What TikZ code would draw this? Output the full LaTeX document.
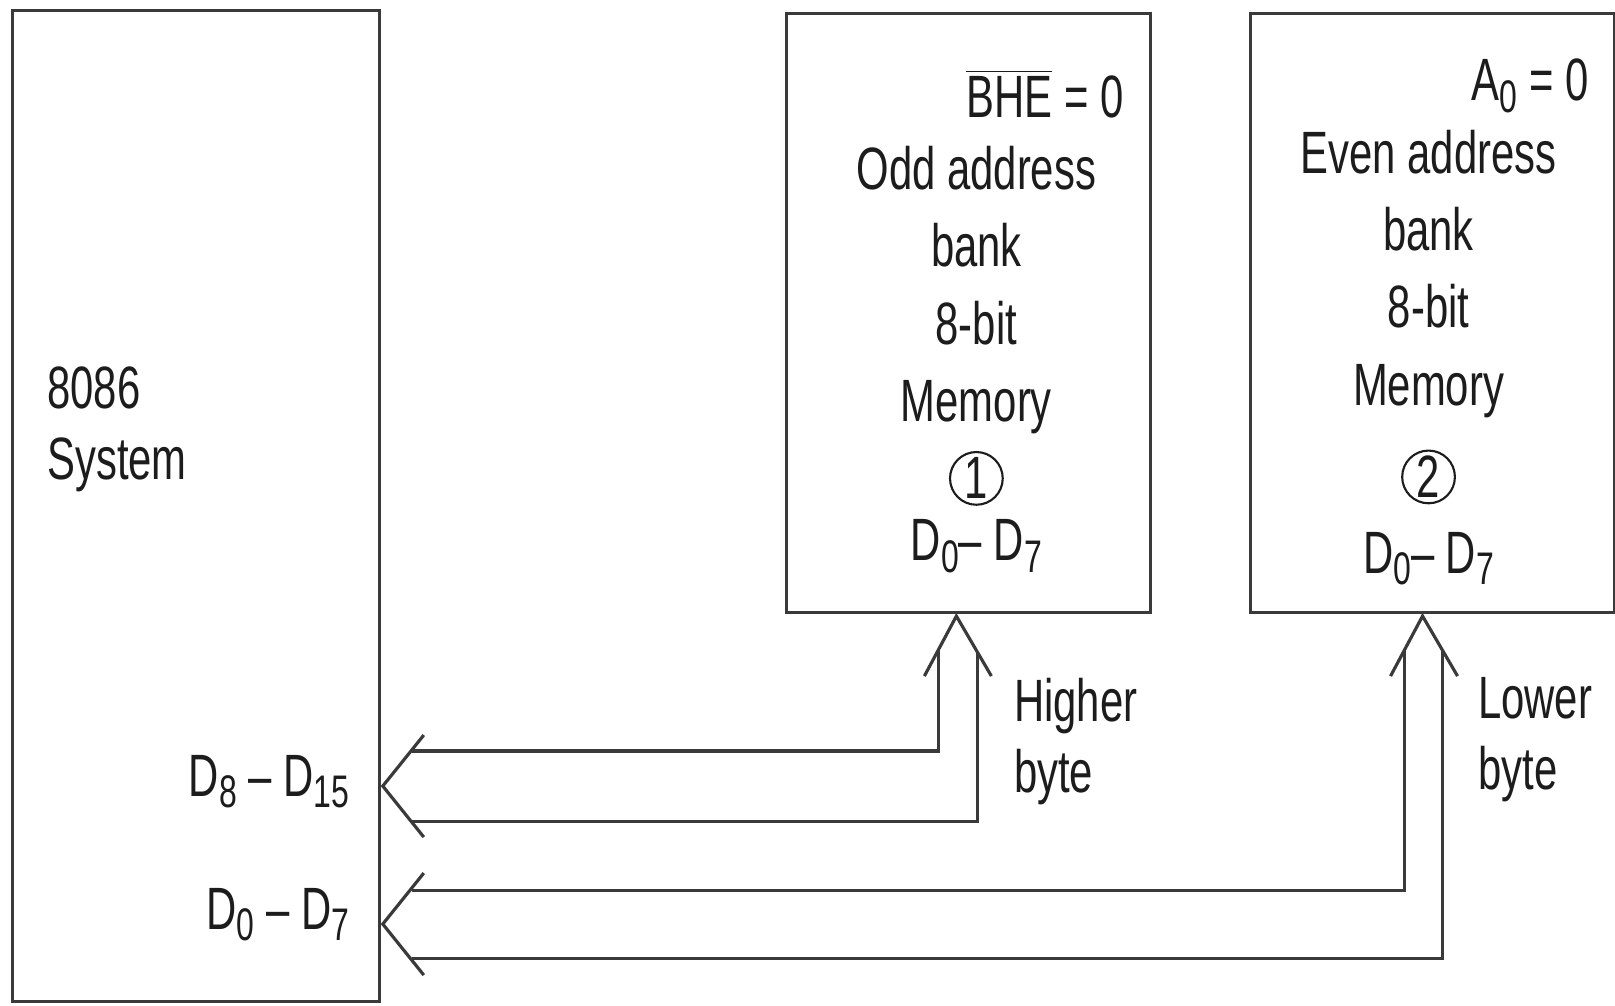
\documentclass[tikz,border=0pt]{standalone}
\usepackage{fontspec}
\setmainfont{Liberation Sans}[FakeStretch=0.70]
\usepackage{tikz}
\usetikzlibrary{positioning,calc}
\definecolor{inkline}{HTML}{3A3A3A}
\definecolor{inktext}{HTML}{1C1C1C}
\tikzset{
  blockbox/.style={rectangle,draw=inkline,line width=0.9pt,inner sep=0pt},
  sysbox/.style={blockbox,minimum width=3.67cm,minimum height=9.91cm},
  bankbox/.style={blockbox,minimum width=3.64cm,minimum height=5.99cm},
  banktxt/.style={align=flush center,inner sep=0pt,text=inktext,font=\fontsize{17}{22}\selectfont},
  lbl/.style={align=left,inner sep=0pt,text=inktext,font=\fontsize{17}{20.2}\selectfont},
  busline/.style={draw=inkline,line width=0.9pt,line join=miter},
  circnum/.style={circle,draw=inktext,line width=0.6pt,inner sep=0pt,minimum size=15pt},
}
\newcommand{\bankno}[1]{\tikz[baseline=(b.base)]\node[circnum](b){#1};}
\newcommand{\lowidx}[1]{\raisebox{-3.3pt}{\fontsize{13}{13}\selectfont#1}}

\begin{document}
\begin{tikzpicture}
  \useasboundingbox (0,0) rectangle (16.15,10.05);
  \node[sysbox] (sys) at (1.957,4.99) {};
  \node[bankbox,right=4.04cm of sys.north east,anchor=north west,yshift=-0.03cm] (odd) {};
  \node[bankbox,right=0.97cm of odd] (even) {};

  \node[lbl,anchor=west] (systxt) at ($(sys.west)+(0.36,0.77)$) {8086\\System};
  \node[lbl,anchor=base east] (hipins) at ($(sys.south east)+(-0.31,2.07)$)
    {D\lowidx{8} – D\lowidx{15}};
  \node[lbl,anchor=base east] (lopins) at ($(sys.south east)+(-0.31,0.74)$)
    {D\lowidx{0} – D\lowidx{7}};

  \node[banktxt,text width=2.94cm] (oddtxt) at ($(odd.center)+(0.08,-0.08)$) {
    \hspace*{\fill}$\overline{\mbox{BHE}}$ = 0\\[-1.4pt]
    Odd address\\ bank\\ 8-bit\\ Memory\\ \bankno{1}\\[-4.4pt]
    D\lowidx{0}– D\lowidx{7}};
  \node[banktxt,text width=3.2cm] (eventxt) at ($(even.center)+(-0.04,-0.09)$) {
    \hspace*{\fill}A\lowidx{0} = 0\\[-1.4pt]
    Even address\\ bank\\ 8-bit\\ Memory\\[4.4pt] \bankno{2}\\[-0.6pt]
    D\lowidx{0}– D\lowidx{7}};

  \coordinate (hiup) at ($(odd.south)+(-0.12,-0.02)$);
  \coordinate (hidn) at ($(sys.south east)+(0.02,2.17)$);
  \coordinate (loup) at ($(even.south)+(-0.10,-0.02)$);
  \coordinate (lodn) at ($(sys.south east)+(0.02,0.79)$);

  \draw[busline] ($(hiup)+(-0.18,-0.34)$) |- ($(hidn)+(0.29,0.35)$);
  \draw[busline] ($(hiup)+(0.21,-0.36)$) |- ($(hidn)+(0.29,-0.35)$);
  \draw[busline] ($(hiup)+(-0.32,-0.60)$) -- (hiup) -- ($(hiup)+(0.35,-0.60)$);
  \draw[busline] ($(hidn)+(0.41,0.51)$) -- (hidn) -- ($(hidn)+(0.41,-0.51)$);

  \draw[busline] ($(loup)+(-0.18,-0.34)$) |- ($(lodn)+(0.29,0.34)$);
  \draw[busline] ($(loup)+(0.20,-0.34)$) |- ($(lodn)+(0.29,-0.34)$);
  \draw[busline] ($(loup)+(-0.32,-0.60)$) -- (loup) -- ($(loup)+(0.35,-0.60)$);
  \draw[busline] ($(lodn)+(0.41,0.51)$) -- (lodn) -- ($(lodn)+(0.41,-0.51)$);

  \node[lbl,anchor=west] (hilbl) at ($(odd.south)+(0.45,-1.27)$) {Higher\\byte};
  \node[lbl,anchor=west] (lolbl) at ($(even.south)+(0.45,-1.26)$) {Lower\\byte};
\end{tikzpicture}
\end{document}
